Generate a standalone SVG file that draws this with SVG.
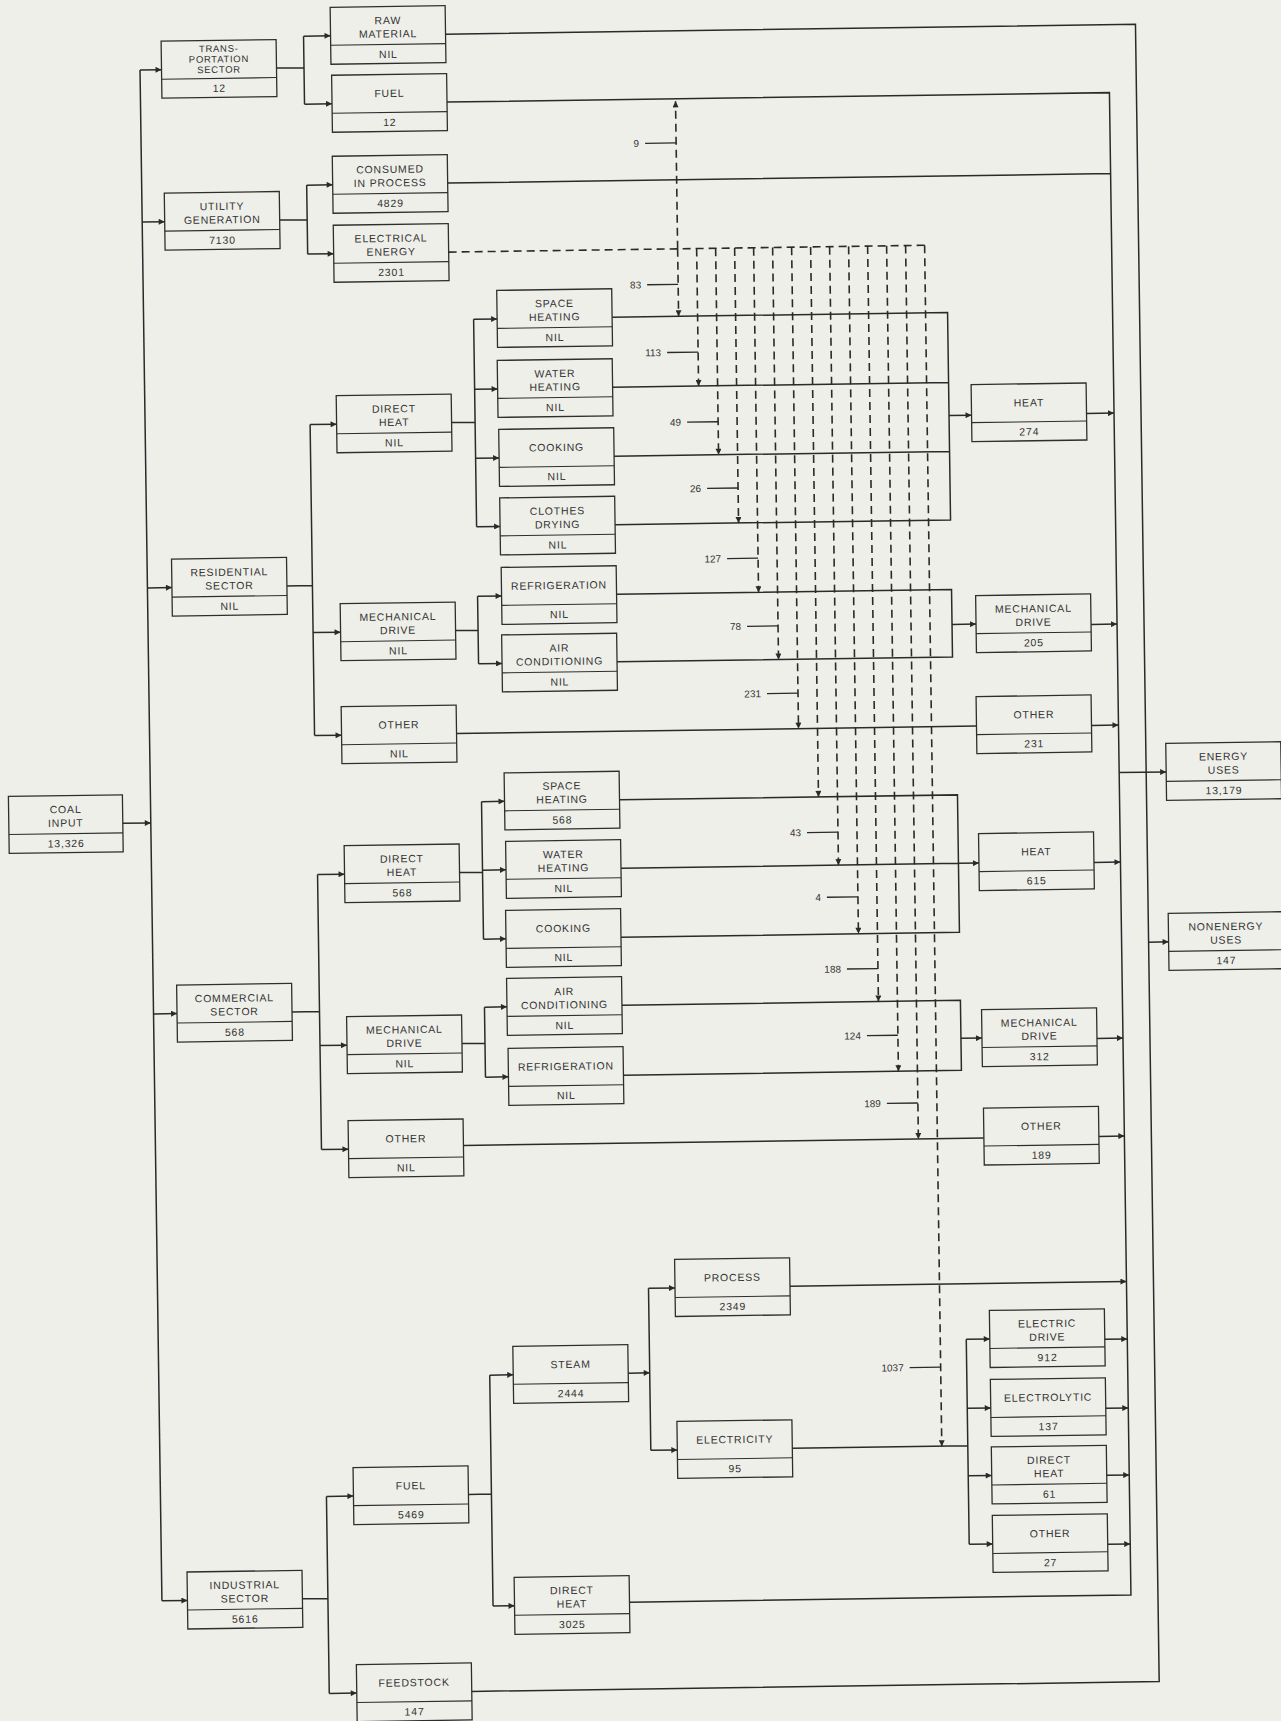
<svg xmlns="http://www.w3.org/2000/svg" width="1281" height="1721" viewBox="0 0 1281 1721">
<defs>
<style>
.b{fill:none;stroke:#2e2e2e;stroke-width:1.3}
.dv{stroke:#2e2e2e;stroke-width:1.1}
.t{font-family:"Liberation Sans",Arial,sans-serif;font-size:10.5px;letter-spacing:0.8px;fill:#333;text-anchor:middle}
.t3{font-family:"Liberation Sans",Arial,sans-serif;font-size:9.5px;letter-spacing:0.7px;fill:#333;text-anchor:middle}
.c{fill:none;stroke:#2a2a2a;stroke-width:1.5}
.a{marker-end:url(#ah)}
.ds{fill:none;stroke:#2a2a2a;stroke-width:1.6;stroke-dasharray:8 5}
.tk{fill:none;stroke:#2a2a2a;stroke-width:1.3}
.lb{font-family:"Liberation Sans",Arial,sans-serif;font-size:10px;fill:#333;text-anchor:end}
</style>
<marker id="ah" viewBox="0 0 10 10" refX="10" refY="5" markerWidth="8" markerHeight="6" markerUnits="userSpaceOnUse" orient="auto"><path d="M0,0 L10,5 L0,10 z" fill="#2a2a2a"/></marker>
</defs>
<rect x="0" y="0" width="1281" height="1721" fill="#efefea"/>
<g transform="rotate(-0.82)">
<g id="connectors">
<path class="c a" d="M111 825 H139"/>
<path class="c" d="M139 72 V1603"/>
<path class="c a" d="M139 72 H160.5"/>
<path class="c a" d="M139 224 H161.5"/>
<path class="c a" d="M139 590 H163.5"/>
<path class="c a" d="M139 1016 H162.5"/>
<path class="c a" d="M139 1603 H164.5"/>
<path class="c" d="M275.5 72 H303 M303 40.5 V108.5"/>
<path class="c a" d="M303 40.5 H330"/>
<path class="c a" d="M303 108.5 H330.5"/>
<path class="c" d="M276.5 224 H304 M304 189.5 V258.5"/>
<path class="c a" d="M304 189.5 H330"/>
<path class="c a" d="M304 258.5 H330"/>
<path class="c" d="M278.5 590 H304 M304 429 V740"/>
<path class="c a" d="M304 429 H330.5"/>
<path class="c a" d="M304 637 H331.5"/>
<path class="c a" d="M304 740 H331"/>
<path class="c" d="M277.5 1016 H305 M305 879 V1154"/>
<path class="c a" d="M305 879 H332"/>
<path class="c a" d="M305 1050 H332"/>
<path class="c a" d="M305 1154 H332"/>
<path class="c" d="M279.5 1603 H305 M305 1501 V1698"/>
<path class="c a" d="M305 1501 H332"/>
<path class="c a" d="M305 1698 H332.5"/>
<path class="c" d="M445.5 429 H469 M469 326 V533.5"/>
<path class="c a" d="M469 326 H492.5"/>
<path class="c a" d="M469 396 H492"/>
<path class="c a" d="M469 465 H492.5"/>
<path class="c a" d="M469 533.5 H492.5"/>
<path class="c" d="M446.5 637 H469 M469 603 V670.5"/>
<path class="c a" d="M469 603 H493"/>
<path class="c a" d="M469 670.5 H492.5"/>
<path class="c" d="M447 879 H470 M470 808.5 V946"/>
<path class="c a" d="M470 808.5 H493"/>
<path class="c a" d="M470 877 H493.5"/>
<path class="c a" d="M470 946 H492.5"/>
<path class="c" d="M447 1050 H470 M470 1014 V1084"/>
<path class="c a" d="M470 1014 H492.5"/>
<path class="c a" d="M470 1084 H493"/>
<path class="c" d="M447 1501 H470 M470 1382 V1613"/>
<path class="c a" d="M470 1382 H493.5"/>
<path class="c a" d="M470 1613 H491.5"/>
<path class="c a" d="M608.5 1382 H630"/>
<path class="c" d="M630 1297.5 V1459.5"/>
<path class="c a" d="M630 1297.5 H656.5"/>
<path class="c a" d="M630 1459.5 H656.5"/>
<path class="c" d="M607.5 326 H943 V533.5 H607.5 M607 396 H943 M607.5 465 H943"/>
<path class="c a" d="M943 429 H965.5"/>
<path class="c" d="M608 603 H943 V670.5 H607.5"/>
<path class="c a" d="M943 638 H967"/>
<path class="c" d="M446 740 H966"/>
<path class="c" d="M608 808.5 H946 V946 H607.5 M608.5 877 H946"/>
<path class="c a" d="M946 877 H966.5"/>
<path class="c" d="M607.5 1014 H946 V1084 H608"/>
<path class="c a" d="M946 1052 H967"/>
<path class="c" d="M447 1152 H967.5"/>
<path class="c" d="M771.5 1459.5 H947 M947 1353 V1558"/>
<path class="c a" d="M947 1353 H970.5"/>
<path class="c a" d="M947 1422 H970.5"/>
<path class="c a" d="M947 1489.5 H970.5"/>
<path class="c a" d="M947 1558 H970.5"/>
<path class="c" d="M445.5 108.5 H1108 V1611 H606.5 M445 189.5 H1108"/>
<path class="c a" d="M1108 788.5 H1155"/>
<path class="c a" d="M1080.5 429 H1108"/>
<path class="c a" d="M1082 640 H1108"/>
<path class="c a" d="M1081 741 H1108"/>
<path class="c a" d="M1081.5 878 H1108"/>
<path class="c a" d="M1082 1054 H1108"/>
<path class="c a" d="M1082.5 1152 H1108"/>
<path class="c a" d="M771.5 1297.5 H1108"/>
<path class="c a" d="M1085.5 1355 H1108"/>
<path class="c a" d="M1085.5 1424 H1108"/>
<path class="c a" d="M1085.5 1491 H1108"/>
<path class="c a" d="M1085.5 1560 H1108"/>
<path class="c" d="M445 40.5 H1135 V1698 H447.5"/>
<path class="c a" d="M1135 958.5 H1155"/>
<path class="ds" d="M445 258.5 H921"/>
<path class="ds a" d="M674 258.5 V111"/>
<path class="ds a" d="M674 258.5 V326"/>
<path class="ds a" d="M693 258.5 V396"/>
<path class="ds a" d="M712 258.5 V465"/>
<path class="ds a" d="M731 258.5 V533.5"/>
<path class="ds a" d="M750 258.5 V603"/>
<path class="ds a" d="M769 258.5 V670.5"/>
<path class="ds a" d="M788 258.5 V740"/>
<path class="ds a" d="M807 258.5 V808.5"/>
<path class="ds a" d="M826 258.5 V877"/>
<path class="ds a" d="M845 258.5 V946"/>
<path class="ds a" d="M864 258.5 V1014"/>
<path class="ds a" d="M883 258.5 V1084"/>
<path class="ds a" d="M902 258.5 V1152"/>
<path class="ds a" d="M921 258.5 V1459.5"/>
<path class="tk" d="M643 152.5 H674 M643 294 H674 M662 362 H693 M681 432 H712 M700 498.5 H731 M719 569 H750 M738 637 H769 M757 704.5 H788 M795 844 H826 M814 909 H845 M833 981 H864 M852 1048 H883 M871 1116 H902 M890 1380.5 H921"/>
<text class="lb" x="637" y="156">9</text>
<text class="lb" x="637" y="297.5">83</text>
<text class="lb" x="656" y="365.5">113</text>
<text class="lb" x="675" y="435.5">49</text>
<text class="lb" x="694" y="502">26</text>
<text class="lb" x="713" y="572.5">127</text>
<text class="lb" x="732" y="640.5">78</text>
<text class="lb" x="751" y="708">231</text>
<text class="lb" x="789" y="847.5">43</text>
<text class="lb" x="808" y="912.5">4</text>
<text class="lb" x="827" y="984.5">188</text>
<text class="lb" x="846" y="1051.5">124</text>
<text class="lb" x="865" y="1119.5">189</text>
<text class="lb" x="884" y="1384">1037</text>
</g>
<g id="coal"><rect class="b" x="-3" y="796.5" width="114" height="57"/><line class="dv" x1="-3" y1="834.5" x2="111" y2="834.5"/><text class="t" x="54" y="814">COAL</text><text class="t" x="54" y="827.5">INPUT</text><text class="t" x="54" y="848">13,326</text></g>
<g id="transport"><rect class="b" x="160.5" y="43.5" width="115" height="57"/><line class="dv" x1="160.5" y1="81.5" x2="275.5" y2="81.5"/><text class="t3" x="218" y="55">TRANS-</text><text class="t3" x="218" y="65.5">PORTATION</text><text class="t3" x="218" y="76">SECTOR</text><text class="t" x="218" y="95">12</text></g>
<g id="utility"><rect class="b" x="161.5" y="195.5" width="115" height="57"/><line class="dv" x1="161.5" y1="233.5" x2="276.5" y2="233.5"/><text class="t" x="219" y="213">UTILITY</text><text class="t" x="219" y="226.5">GENERATION</text><text class="t" x="219" y="247">7130</text></g>
<g id="raw"><rect class="b" x="330" y="12" width="115" height="57"/><line class="dv" x1="330" y1="50" x2="445" y2="50"/><text class="t" x="387.5" y="29.5">RAW</text><text class="t" x="387.5" y="43">MATERIAL</text><text class="t" x="387.5" y="63.5">NIL</text></g>
<g id="fuelT"><rect class="b" x="330.5" y="80" width="115" height="57"/><line class="dv" x1="330.5" y1="118" x2="445.5" y2="118"/><text class="t" x="388" y="102.5">FUEL</text><text class="t" x="388" y="131.5">12</text></g>
<g id="consumed"><rect class="b" x="330" y="161" width="115" height="57"/><line class="dv" x1="330" y1="199" x2="445" y2="199"/><text class="t" x="387.5" y="178.5">CONSUMED</text><text class="t" x="387.5" y="192">IN PROCESS</text><text class="t" x="387.5" y="212.5">4829</text></g>
<g id="electrical"><rect class="b" x="330" y="230" width="115" height="57"/><line class="dv" x1="330" y1="268" x2="445" y2="268"/><text class="t" x="387.5" y="247.5">ELECTRICAL</text><text class="t" x="387.5" y="261">ENERGY</text><text class="t" x="387.5" y="281.5">2301</text></g>
<g id="residential"><rect class="b" x="163.5" y="561.5" width="115" height="57"/><line class="dv" x1="163.5" y1="599.5" x2="278.5" y2="599.5"/><text class="t" x="221" y="579">RESIDENTIAL</text><text class="t" x="221" y="592.5">SECTOR</text><text class="t" x="221" y="613">NIL</text></g>
<g id="dhRes"><rect class="b" x="330.5" y="400.5" width="115" height="57"/><line class="dv" x1="330.5" y1="438.5" x2="445.5" y2="438.5"/><text class="t" x="388" y="418">DIRECT</text><text class="t" x="388" y="431.5">HEAT</text><text class="t" x="388" y="452">NIL</text></g>
<g id="mechRes"><rect class="b" x="331.5" y="608.5" width="115" height="57"/><line class="dv" x1="331.5" y1="646.5" x2="446.5" y2="646.5"/><text class="t" x="389" y="626">MECHANICAL</text><text class="t" x="389" y="639.5">DRIVE</text><text class="t" x="389" y="660">NIL</text></g>
<g id="otherRes"><rect class="b" x="331" y="711.5" width="115" height="57"/><line class="dv" x1="331" y1="749.5" x2="446" y2="749.5"/><text class="t" x="388.5" y="734">OTHER</text><text class="t" x="388.5" y="763">NIL</text></g>
<g id="shRes"><rect class="b" x="492.5" y="297.5" width="115" height="57"/><line class="dv" x1="492.5" y1="335.5" x2="607.5" y2="335.5"/><text class="t" x="550" y="315">SPACE</text><text class="t" x="550" y="328.5">HEATING</text><text class="t" x="550" y="349">NIL</text></g>
<g id="whRes"><rect class="b" x="492" y="367.5" width="115" height="57"/><line class="dv" x1="492" y1="405.5" x2="607" y2="405.5"/><text class="t" x="549.5" y="385">WATER</text><text class="t" x="549.5" y="398.5">HEATING</text><text class="t" x="549.5" y="419">NIL</text></g>
<g id="ckRes"><rect class="b" x="492.5" y="436.5" width="115" height="57"/><line class="dv" x1="492.5" y1="474.5" x2="607.5" y2="474.5"/><text class="t" x="550" y="459">COOKING</text><text class="t" x="550" y="488">NIL</text></g>
<g id="cdRes"><rect class="b" x="492.5" y="505" width="115" height="57"/><line class="dv" x1="492.5" y1="543" x2="607.5" y2="543"/><text class="t" x="550" y="522.5">CLOTHES</text><text class="t" x="550" y="536">DRYING</text><text class="t" x="550" y="556.5">NIL</text></g>
<g id="rfRes"><rect class="b" x="493" y="574.5" width="115" height="57"/><line class="dv" x1="493" y1="612.5" x2="608" y2="612.5"/><text class="t" x="550.5" y="597">REFRIGERATION</text><text class="t" x="550.5" y="626">NIL</text></g>
<g id="acRes"><rect class="b" x="492.5" y="642" width="115" height="57"/><line class="dv" x1="492.5" y1="680" x2="607.5" y2="680"/><text class="t" x="550" y="659.5">AIR</text><text class="t" x="550" y="673">CONDITIONING</text><text class="t" x="550" y="693.5">NIL</text></g>
<g id="heat274"><rect class="b" x="965.5" y="398.5" width="115" height="57"/><line class="dv" x1="965.5" y1="436.5" x2="1080.5" y2="436.5"/><text class="t" x="1023" y="421">HEAT</text><text class="t" x="1023" y="450">274</text></g>
<g id="mech205"><rect class="b" x="967" y="609.5" width="115" height="57"/><line class="dv" x1="967" y1="647.5" x2="1082" y2="647.5"/><text class="t" x="1024.5" y="627">MECHANICAL</text><text class="t" x="1024.5" y="640.5">DRIVE</text><text class="t" x="1024.5" y="661">205</text></g>
<g id="other231"><rect class="b" x="966" y="710.5" width="115" height="57"/><line class="dv" x1="966" y1="748.5" x2="1081" y2="748.5"/><text class="t" x="1023.5" y="733">OTHER</text><text class="t" x="1023.5" y="762">231</text></g>
<g id="energy"><rect class="b" x="1155" y="760" width="115" height="57"/><line class="dv" x1="1155" y1="798" x2="1270" y2="798"/><text class="t" x="1212.5" y="777.5">ENERGY</text><text class="t" x="1212.5" y="791">USES</text><text class="t" x="1212.5" y="811.5">13,179</text></g>
<g id="commercial"><rect class="b" x="162.5" y="987.5" width="115" height="57"/><line class="dv" x1="162.5" y1="1025.5" x2="277.5" y2="1025.5"/><text class="t" x="220" y="1005">COMMERCIAL</text><text class="t" x="220" y="1018.5">SECTOR</text><text class="t" x="220" y="1039">568</text></g>
<g id="dhCom"><rect class="b" x="332" y="850.5" width="115" height="57"/><line class="dv" x1="332" y1="888.5" x2="447" y2="888.5"/><text class="t" x="389.5" y="868">DIRECT</text><text class="t" x="389.5" y="881.5">HEAT</text><text class="t" x="389.5" y="902">568</text></g>
<g id="mechCom"><rect class="b" x="332" y="1021.5" width="115" height="57"/><line class="dv" x1="332" y1="1059.5" x2="447" y2="1059.5"/><text class="t" x="389.5" y="1039">MECHANICAL</text><text class="t" x="389.5" y="1052.5">DRIVE</text><text class="t" x="389.5" y="1073">NIL</text></g>
<g id="otherCom"><rect class="b" x="332" y="1125.5" width="115" height="57"/><line class="dv" x1="332" y1="1163.5" x2="447" y2="1163.5"/><text class="t" x="389.5" y="1148">OTHER</text><text class="t" x="389.5" y="1177">NIL</text></g>
<g id="shCom"><rect class="b" x="493" y="780" width="115" height="57"/><line class="dv" x1="493" y1="818" x2="608" y2="818"/><text class="t" x="550.5" y="797.5">SPACE</text><text class="t" x="550.5" y="811">HEATING</text><text class="t" x="550.5" y="831.5">568</text></g>
<g id="whCom"><rect class="b" x="493.5" y="848.5" width="115" height="57"/><line class="dv" x1="493.5" y1="886.5" x2="608.5" y2="886.5"/><text class="t" x="551" y="866">WATER</text><text class="t" x="551" y="879.5">HEATING</text><text class="t" x="551" y="900">NIL</text></g>
<g id="ckCom"><rect class="b" x="492.5" y="917.5" width="115" height="57"/><line class="dv" x1="492.5" y1="955.5" x2="607.5" y2="955.5"/><text class="t" x="550" y="940">COOKING</text><text class="t" x="550" y="969">NIL</text></g>
<g id="acCom"><rect class="b" x="492.5" y="985.5" width="115" height="57"/><line class="dv" x1="492.5" y1="1023.5" x2="607.5" y2="1023.5"/><text class="t" x="550" y="1003">AIR</text><text class="t" x="550" y="1016.5">CONDITIONING</text><text class="t" x="550" y="1037">NIL</text></g>
<g id="rfCom"><rect class="b" x="493" y="1055.5" width="115" height="57"/><line class="dv" x1="493" y1="1093.5" x2="608" y2="1093.5"/><text class="t" x="550.5" y="1078">REFRIGERATION</text><text class="t" x="550.5" y="1107">NIL</text></g>
<g id="heat615"><rect class="b" x="966.5" y="847.5" width="115" height="57"/><line class="dv" x1="966.5" y1="885.5" x2="1081.5" y2="885.5"/><text class="t" x="1024" y="870">HEAT</text><text class="t" x="1024" y="899">615</text></g>
<g id="nonenergy"><rect class="b" x="1155" y="930" width="115" height="57"/><line class="dv" x1="1155" y1="968" x2="1270" y2="968"/><text class="t" x="1212.5" y="947.5">NONENERGY</text><text class="t" x="1212.5" y="961">USES</text><text class="t" x="1212.5" y="981.5">147</text></g>
<g id="mech312"><rect class="b" x="967" y="1023.5" width="115" height="57"/><line class="dv" x1="967" y1="1061.5" x2="1082" y2="1061.5"/><text class="t" x="1024.5" y="1041">MECHANICAL</text><text class="t" x="1024.5" y="1054.5">DRIVE</text><text class="t" x="1024.5" y="1075">312</text></g>
<g id="other189"><rect class="b" x="967.5" y="1122" width="115" height="57"/><line class="dv" x1="967.5" y1="1160" x2="1082.5" y2="1160"/><text class="t" x="1025" y="1144.5">OTHER</text><text class="t" x="1025" y="1173.5">189</text></g>
<g id="industrial"><rect class="b" x="164.5" y="1574.5" width="115" height="57"/><line class="dv" x1="164.5" y1="1612.5" x2="279.5" y2="1612.5"/><text class="t" x="222" y="1592">INDUSTRIAL</text><text class="t" x="222" y="1605.5">SECTOR</text><text class="t" x="222" y="1626">5616</text></g>
<g id="fuelInd"><rect class="b" x="332" y="1472.5" width="115" height="57"/><line class="dv" x1="332" y1="1510.5" x2="447" y2="1510.5"/><text class="t" x="389.5" y="1495">FUEL</text><text class="t" x="389.5" y="1524">5469</text></g>
<g id="feedstock"><rect class="b" x="332.5" y="1669.5" width="115" height="57"/><line class="dv" x1="332.5" y1="1707.5" x2="447.5" y2="1707.5"/><text class="t" x="390" y="1692">FEEDSTOCK</text><text class="t" x="390" y="1721">147</text></g>
<g id="steam"><rect class="b" x="493.5" y="1353.5" width="115" height="57"/><line class="dv" x1="493.5" y1="1391.5" x2="608.5" y2="1391.5"/><text class="t" x="551" y="1376">STEAM</text><text class="t" x="551" y="1405">2444</text></g>
<g id="dhInd"><rect class="b" x="491.5" y="1584.5" width="115" height="57"/><line class="dv" x1="491.5" y1="1622.5" x2="606.5" y2="1622.5"/><text class="t" x="549" y="1602">DIRECT</text><text class="t" x="549" y="1615.5">HEAT</text><text class="t" x="549" y="1636">3025</text></g>
<g id="process"><rect class="b" x="656.5" y="1269" width="115" height="57"/><line class="dv" x1="656.5" y1="1307" x2="771.5" y2="1307"/><text class="t" x="714" y="1291.5">PROCESS</text><text class="t" x="714" y="1320.5">2349</text></g>
<g id="electricity"><rect class="b" x="656.5" y="1431" width="115" height="57"/><line class="dv" x1="656.5" y1="1469" x2="771.5" y2="1469"/><text class="t" x="714" y="1453.5">ELECTRICITY</text><text class="t" x="714" y="1482.5">95</text></g>
<g id="eDrive"><rect class="b" x="970.5" y="1324.5" width="115" height="57"/><line class="dv" x1="970.5" y1="1362.5" x2="1085.5" y2="1362.5"/><text class="t" x="1028" y="1342">ELECTRIC</text><text class="t" x="1028" y="1355.5">DRIVE</text><text class="t" x="1028" y="1376">912</text></g>
<g id="electrolytic"><rect class="b" x="970.5" y="1393.5" width="115" height="57"/><line class="dv" x1="970.5" y1="1431.5" x2="1085.5" y2="1431.5"/><text class="t" x="1028" y="1416">ELECTROLYTIC</text><text class="t" x="1028" y="1445">137</text></g>
<g id="dh61"><rect class="b" x="970.5" y="1461" width="115" height="57"/><line class="dv" x1="970.5" y1="1499" x2="1085.5" y2="1499"/><text class="t" x="1028" y="1478.5">DIRECT</text><text class="t" x="1028" y="1492">HEAT</text><text class="t" x="1028" y="1512.5">61</text></g>
<g id="other27"><rect class="b" x="970.5" y="1529.5" width="115" height="57"/><line class="dv" x1="970.5" y1="1567.5" x2="1085.5" y2="1567.5"/><text class="t" x="1028" y="1552">OTHER</text><text class="t" x="1028" y="1581">27</text></g>
</g>
</svg>
